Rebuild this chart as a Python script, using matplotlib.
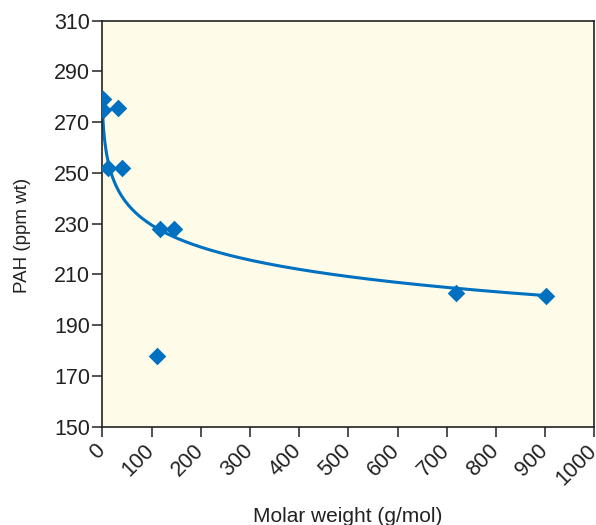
import numpy as np
import matplotlib.pyplot as plt
import matplotlib.transforms as mtransforms

plt.rcParams['font.family'] = ['Liberation Sans', 'DejaVu Sans']

# measured points
molar_weight = [2, 2, 32, 12, 40, 117, 145, 112, 718, 901]
pah_ppm = [279, 275, 275.5, 252, 252, 228, 228, 178, 202.6, 201.5]

# logarithmic trend line y = a + b*ln(x + c)
trend_a = 288.8
trend_b = -12.8
trend_c = 3.0
trend_range = (0, 901)

x_ticks = list(range(0, 1001, 100))
y_ticks = list(range(150, 311, 20))

blue = '#0070C0'

fig = plt.figure(figsize=(5.96, 5.25), dpi=100)
ax = fig.add_axes([0.1718, 0.1872, 0.9973 - 0.1718, 0.9606 - 0.1872])
ax.set_facecolor('#FEFBE8')

xs = np.linspace(trend_range[0], trend_range[1], 400)
ax.plot(xs, trend_a + trend_b * np.log(xs + trend_c), color=blue, lw=2.2, zorder=2)
ax.scatter(molar_weight, pah_ppm, marker='D', s=80, color=blue, zorder=3, linewidths=0)

ax.set_xlim(0, 1000)
ax.set_ylim(150, 310)
ax.set_xticks(x_ticks)
ax.set_yticks(y_ticks)
ax.set_xticklabels([str(t) for t in x_ticks], rotation=45, ha='right',
                   rotation_mode='anchor')
ax.tick_params(axis='both', labelsize=15.5, length=7, width=1.2, color='#333333',
               labelcolor='#222222', direction='out')
ax.tick_params(axis='x', pad=2)
ax.tick_params(axis='y', pad=2)
# nudge rotated labels a little left, like the original
shift = mtransforms.ScaledTranslation(-8 / 100, -1 / 100, fig.dpi_scale_trans)
for lbl in ax.get_xticklabels():
    lbl.set_transform(lbl.get_transform() + shift)
for s in ax.spines.values():
    s.set_color('#222222')
    s.set_linewidth(1.2)

fig.text(23 / 596, 1 - 235 / 525, 'PAH (ppm wt)', fontsize=13.5, color='#222222',
         rotation=90, ha='center', va='center')
fig.text(348 / 596, 3 / 525, 'Molar weight (g/mol)', fontsize=15, color='#222222',
         ha='center', va='baseline')

fig.savefig('out.png', dpi=100)
